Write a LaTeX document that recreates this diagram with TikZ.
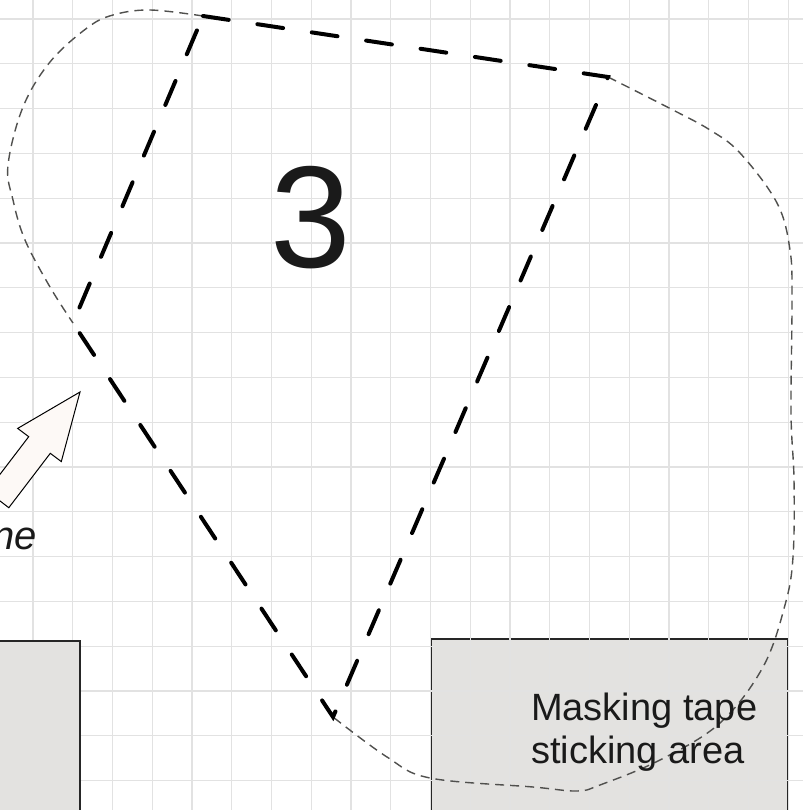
\documentclass[tikz,border=0pt]{standalone}
\usepackage{fontspec}
\setmainfont{Liberation Sans}
\definecolor{gridgray}{RGB}{226,226,226}
\definecolor{areagray}{RGB}{227,226,224}
\definecolor{arrowfill}{RGB}{253,249,246}
\definecolor{outlinegray}{RGB}{80,80,78}
\definecolor{inkblack}{RGB}{26,26,26}
\begin{document}
\begin{tikzpicture}[x=1pt,y=-1pt]
\tikzstyle{every node}=[inner sep=0pt, text=inkblack]
\tikzstyle{gridline}=[draw=gridgray, line width=1.1pt]
\tikzstyle{tapearea}=[draw=black!85, line width=1.2pt, fill=areagray]
\tikzstyle{fold}=[line width=4pt, dash pattern=on 26pt off 29pt, line cap=round]
\tikzstyle{outline}=[draw=outlinegray, line width=1.4pt, dash pattern=on 9pt off 6pt]
\useasboundingbox (0,0) rectangle (803,810);
\fill[white] (0,0) rectangle (803,810);

\filldraw[tapearea] (431,639) rectangle (788,830);
\foreach \i in {-1,...,19}
	\draw[gridline] ({33+39.75*\i},0) -- ({33+39.75*\i},810);
\foreach \j in {0,...,17}
	\draw[gridline] (0,{19+44.8*\j}) -- (803,{19+44.8*\j});
\filldraw[tapearea] (-10,641) rectangle (80,830);

\coordinate (tl) at (203,16);
\coordinate (tr) at (608,77);
\coordinate (bt) at (333,717);
\coordinate (lf) at (73,323);

\draw[outline] plot[smooth, tension=0.6] coordinates {(203,16) (150,10) (113,15) (87,28) (50,62) (23,107) (8,165) (13,200) (25,240) (50,287) (73,323)};
\draw[outline] plot[smooth, tension=0.6] coordinates {(608,77) (673,110) (710,130) (740,153) (777,203) (790,250) (792,300) (791,413) (794,480) (793,557) (785,605) (763,667) (720,723) (660,760) (600,785) (577,791) (533,787) (430,778) (387,757) (333,717)};
\draw[fold] (tl) -- (tr) -- (bt) -- (lf) -- cycle;

\filldraw[fill=arrowfill, draw=black, line width=1pt] (80,392) -- (61.3,461.6) -- (50.3,453.3) -- (8.8,507.7) -- (-12.8,491.1) -- (28.7,436.7) -- (17.7,428.4) -- cycle;

\node[font=\fontsize{145}{150}\selectfont] (num) at (311,218) {3};
\node[font=\fontsize{38}{43}\selectfont, align=left, anchor=north west] (tapetext) at (531,693) {Masking tape\\sticking area};
\node[font=\fontsize{40}{44}\selectfont\itshape, anchor=base east] (cut) at (37,549) {ne};
\end{tikzpicture}
\end{document}
